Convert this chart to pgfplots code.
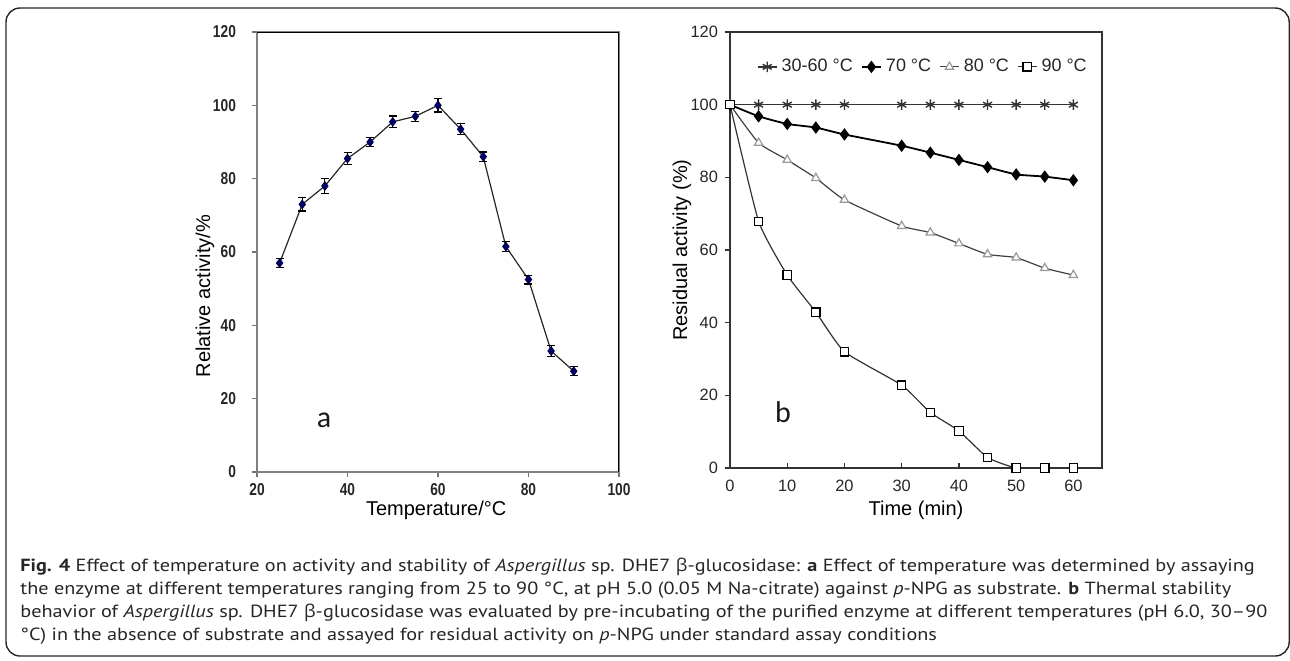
\documentclass[border=0pt]{standalone}
\usepackage{fontspec}
\setmainfont{Liberation Sans}
\newfontfamily\capfont[FakeStretch=1.15]{PT Sans}
\newfontfamily\grk[FakeStretch=1.05]{Open Sans}
\newfontfamily\carlito{Carlito}
\newfontfamily\narrowfont[FakeStretch=0.8]{Liberation Sans}
\usepackage{pgfplots}
\pgfplotsset{compat=1.18}

\begin{document}
\begin{tikzpicture}
\useasboundingbox (0,0) rectangle (645pt,-330pt);
% frame round the figure
\draw[rounded corners=7pt, line width=0.7pt, black!85] (3pt,-4pt) rectangle (644.6pt,-328pt);

%% (a) temperature optimum
\begin{axis}[
    at={(128.5pt,-236pt)}, anchor=south west,
    scale only axis, width=181pt, height=220pt,
    xmin=20, xmax=100, ymin=0, ymax=120,
    xtick={20,40,...,100}, ytick={0,20,...,120},
    tick align=outside, tick pos=left,
    major tick length=2.5pt,
    axis line style={black!50, line width=0.6pt},
    tick style={black!55, line width=0.6pt},
    /pgf/number format/assume math mode=true,
    ticklabel style={font=\narrowfont\bfseries\fontsize{8.6}{9}\selectfont, text=black!85},
    xticklabel style={yshift=0.5pt},
    yticklabel style={xshift=-4.5pt},
    xlabel={Temperature/°C}, ylabel={Relative activity/\%},
    label style={font=\fontsize{7.8}{9}\selectfont, text=black!85},
    every axis x label/.style={at={(rel axis cs:0.495,0)}, yshift=-19pt, anchor=center},
    every axis y label/.style={at={(rel axis cs:-0.144,0.4)}, rotate=90, anchor=center},
]
\draw[black, line width=0.7pt] (rel axis cs:0,1) -- (rel axis cs:1,1) -- (rel axis cs:1,0);
\addplot[black!85, line width=0.6pt, mark=diamond*, mark size=2pt,
    mark options={fill=blue!45!black, draw=blue!30!black},
    error bars/.cd, y dir=both, y explicit,
    error bar style={black, line width=0.6pt},
    error mark options={rotate=90, mark size=2pt, black, line width=0.6pt}]
coordinates {
    (25,57) +- (0,1.2)
    (30,73) +- (0,1.8)
    (35,78) +- (0,2.0)
    (40,85.5) +- (0,1.6)
    (45,90) +- (0,1.3)
    (50,95.5) +- (0,1.6)
    (55,97) +- (0,1.3)
    (60,100) +- (0,1.8)
    (65,93.5) +- (0,1.5)
    (70,86) +- (0,1.3)
    (75,61.5) +- (0,1.3)
    (80,52.5) +- (0,1.2)
    (85,33) +- (0,1.4)
    (90,27.5) +- (0,1.2)
};
\end{axis}
\node[font=\carlito\fontsize{15}{15}\selectfont, text=black!90] at (162pt,-210pt) {a};

%% (b) thermal stability
\begin{axis}[
    at={(365pt,-234pt)}, anchor=south west,
    scale only axis, width=186pt, height=218pt,
    xmin=0, xmax=65, ymin=0, ymax=120,
    xtick={0,10,...,60}, ytick={0,20,...,120},
    tick align=outside, tick pos=left,
    major tick length=2.5pt,
    axis line style={black!80, line width=0.7pt},
    tick style={black!80, line width=0.7pt},
    xtick style={yshift=2.5pt},
    /pgf/number format/assume math mode=true,
    ticklabel style={font=\fontsize{8.2}{9}\selectfont, text=black!85},
    xlabel={Time (min)}, ylabel={Residual activity (\%)},
    label style={font=\fontsize{9}{10}\selectfont, text=black!85},
    every axis x label/.style={at={(rel axis cs:0.5,0)}, yshift=-21pt, anchor=center},
    every axis y label/.style={at={(rel axis cs:-0.129,0.5)}, rotate=90, anchor=center},
    legend style={at={(rel axis cs:0.055,0.92)}, anchor=west, draw=none, fill=none,
        font=\fontsize{9}{10}\selectfont, text=black!85,
        /tikz/every even column/.append style={column sep=2pt}},
    legend columns=-1,
    legend image code/.code={\draw[mark repeat=2, mark phase=2, #1]
        plot coordinates {(0cm,0cm) (0.17cm,0cm) (0.34cm,0cm)};},
]
\addplot[black!80, line width=0.7pt, mark=asterisk, mark size=2.6pt]
coordinates {(0,100)(5,100)(10,100)(15,100)(20,100)(30,100)(35,100)(40,100)(45,100)(50,100)(55,100)(60,100)};
\addlegendentry{30-60 °C}
\addplot[black, line width=0.9pt, mark=diamond*, mark size=2.4pt, smooth, tension=0.3]
coordinates {(0,100)(5,96.8)(10,94.7)(15,93.7)(20,91.8)(30,88.7)(35,86.8)(40,84.8)(45,82.8)(50,80.8)(55,80.2)(60,79.2)};
\addlegendentry{70 °C}
\addplot[black!75, line width=0.6pt, mark=triangle*, mark size=2.4pt, smooth, tension=0.3,
    mark options={draw=black!40, fill=white}]
coordinates {(0,100)(5,89.5)(10,84.8)(15,79.8)(20,73.8)(30,66.6)(35,64.8)(40,61.8)(45,58.8)(50,57.9)(55,55)(60,53.1)};
\addlegendentry{80 °C}
\addplot[black!80, line width=0.6pt, mark=square*, mark size=2.1pt, smooth, tension=0.3,
    mark options={draw=black, fill=white, line width=0.6pt}]
coordinates {(0,100)(5,67.9)(10,53.1)(15,42.9)(20,32)(30,22.8)(35,15.3)(40,10.2)(45,2.9)(50,0)(55,0)(60,0)};
\addlegendentry{90 °C}
\end{axis}
\node[font=\carlito\fontsize{15}{15}\selectfont, text=black!90] at (391.5pt,-206pt) {b};

%% caption (anchor base = baseline of the last line)
\node[anchor=base west, align=left, inner sep=0pt, text=black!85,
      font=\capfont\fontsize{8.8}{11.5}\selectfont] at (10pt,-320pt)
{\textbf{Fig. 4} Effect of temperature on activity and stability of \textit{Aspergillus} sp. DHE7 {\grk β}-glucosidase: \textbf{a} Effect of temperature was determined by assaying\\
the enzyme at different temperatures ranging from 25 to 90 °C, at pH 5.0 (0.05 M Na-citrate) against \textit{p}-NPG as substrate. \textbf{b} Thermal stability\\
behavior of \textit{Aspergillus} sp. DHE7 {\grk β}-glucosidase was evaluated by pre-incubating of the purified enzyme at different temperatures (pH 6.0, 30–90\\
°C) in the absence of substrate and assayed for residual activity on \textit{p}-NPG under standard assay conditions};
\end{tikzpicture}
\end{document}
